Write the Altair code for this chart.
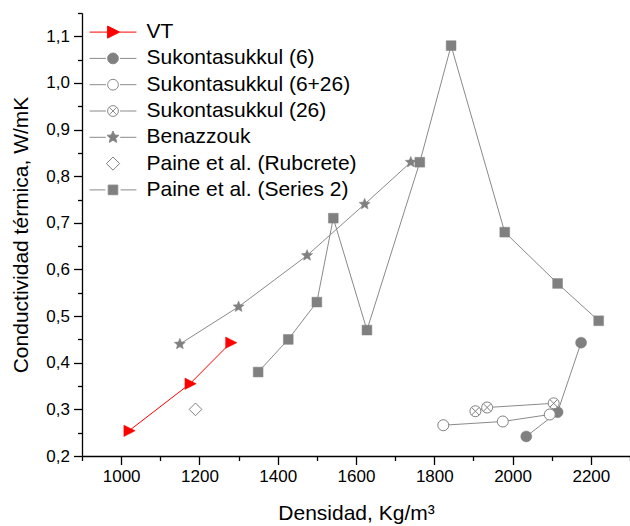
import math
import altair as alt
import pandas as pd

# Density (kg/m³) and thermal conductivity (W/mK) of each series
vt_density = [1020, 1176, 1280]
vt_cond = [0.254, 0.355, 0.443]

suk6_density = [2035, 2115, 2175]
suk6_cond = [0.242, 0.294, 0.443]

suk626_density = [1823, 1975, 2095]
suk626_cond = [0.266, 0.274, 0.289]

suk26_density = [1905, 1935, 2105]
suk26_cond = [0.296, 0.304, 0.313]

benaz_density = [1150, 1300, 1475, 1622, 1740]
benaz_cond = [0.44, 0.52, 0.63, 0.74, 0.83]

rubcrete_density = [1190]
rubcrete_cond = [0.30]

paine2_density = [1350, 1427, 1500, 1542, 1628, 1763, 1843, 1980, 2115, 2220]
paine2_cond = [0.38, 0.45, 0.53, 0.71, 0.47, 0.83, 1.08, 0.68, 0.57, 0.49]

series_names = [
    "VT",
    "Sukontasukkul (6)",
    "Sukontasukkul (6+26)",
    "Sukontasukkul (26)",
    "Benazzouk",
    "Paine et al. (Rubcrete)",
    "Paine et al. (Series 2)",
]

x_ticks = list(range(900, 2301, 100))
y_ticks = [round(0.2 + 0.05 * i, 2) for i in range(20)]

GRAY = "#808080"
LINE_GRAY = "#8a8a8a"
RED = "#ff0000"
FONT = "Liberation Sans"


def f(v):
    return f"{v:.3f}".rstrip("0").rstrip(".")


# Symbol outlines in Vega's unit space (scaled by sqrt(size)/2)
def tri(s=1.0):
    return f"M{f(-0.9*s)},{f(-s)}L{f(1.1*s)},0L{f(-0.9*s)},{f(s)}Z"


def circ(s=1.0):
    return f"M{f(s)},0A{f(s)},{f(s)} 0 1,1 {f(-s)},0A{f(s)},{f(s)} 0 1,1 {f(s)},0Z"


def circx(s=1.0):
    d = 0.7 * s
    return circ(s) + f"M{f(-d)},{f(-d)}L{f(d)},{f(d)}M{f(-d)},{f(d)}L{f(d)},{f(-d)}"


def star(s=1.0, inner=0.45):
    pts = []
    for k in range(10):
        ang = math.radians(-90 + 36 * k)
        rad = s * (1.0 if k % 2 == 0 else inner)
        pts.append(f"{f(rad*math.cos(ang))},{f(rad*math.sin(ang))}")
    return "M" + "L".join(pts) + "Z"


def diamond(s=1.0):
    return f"M0,{f(-s)}L{f(s)},0L0,{f(s)}L{f(-s)},0Z"


def square(s=1.0):
    return f"M{f(-s)},{f(-s)}L{f(s)},{f(-s)}L{f(s)},{f(s)}L{f(-s)},{f(s)}Z"


def with_line(marker, gap_l, gap_r, reach=3.9):
    return f"M{f(-reach)},0L{f(-gap_l)},0M{f(gap_r)},0L{f(reach)},0" + marker


x_axis = alt.Axis(
    title="Densidad, Kg/m³",
    values=x_ticks,
    tickSize={"condition": {"test": "datum.value % 200 === 0", "value": 8.5}, "value": 4.5},
    labelExpr="datum.value % 200 === 0 ? '' + datum.value : ''",
    labelOverlap=False,
    labelFlush=False,
    labelPadding=4,
    titlePadding=18,
)
major_y = "abs(datum.value * 10 - round(datum.value * 10)) < 0.001"
y_axis = alt.Axis(
    title="Conductividad térmica, W/mK",
    values=y_ticks,
    tickSize={"condition": {"test": major_y, "value": 8.5}, "value": 4.5},
    labelExpr=f"{major_y} ? replace(format(datum.value, '.1f'), '.', ',') : ''",
    labelOverlap=False,
    labelFlush=False,
    labelPadding=4,
    titlePadding=14,
)

xs = alt.Scale(domain=[900, 2300], nice=False, zero=False)
ys = alt.Scale(domain=[0.2, 1.15], nice=False, zero=False)


def series_layers(dens, cond, line_color, point_kwargs, with_line_mark=True):
    df = pd.DataFrame({"density": dens, "cond": cond})
    enc = dict(
        x=alt.X("density:Q", scale=xs, axis=x_axis),
        y=alt.Y("cond:Q", scale=ys, axis=y_axis),
    )
    pts = alt.Chart(df).mark_point(opacity=1, **point_kwargs).encode(**enc)
    if with_line_mark:
        ln = alt.Chart(df).mark_line(color=line_color, strokeWidth=1).encode(**enc)
        return [ln], [pts]
    return [], [pts]


specs = [
    (vt_density, vt_cond, RED, dict(shape=tri(), fill=RED, stroke=RED, strokeWidth=0.5, size=128), True),
    (suk6_density, suk6_cond, LINE_GRAY, dict(shape="circle", fill=GRAY, stroke=GRAY, strokeWidth=0.5, size=121), True),
    (suk626_density, suk626_cond, LINE_GRAY, dict(shape="circle", fill="white", stroke=GRAY, strokeWidth=1, size=121), True),
    (suk26_density, suk26_cond, LINE_GRAY, dict(shape=circx(), fill="white", stroke=GRAY, strokeWidth=1, size=121), True),
    (benaz_density, benaz_cond, LINE_GRAY, dict(shape=star(1.05), fill=GRAY, stroke=GRAY, strokeWidth=0.5, size=124), True),
    (rubcrete_density, rubcrete_cond, LINE_GRAY, dict(shape="diamond", fill="white", stroke=GRAY, strokeWidth=1, size=160), False),
    (paine2_density, paine2_cond, LINE_GRAY, dict(shape="square", fill=GRAY, stroke=GRAY, strokeWidth=0.5, size=96), True),
]

line_layers, point_layers = [], []
for dens, cond, lc, pk, wl in specs:
    l, p = series_layers(dens, cond, lc, pk, wl)
    line_layers += l
    point_layers += p

# Legend symbols: a line segment through each marker
legend_shapes = [
    with_line(tri(1.0), 0.9, 1.1),
    with_line(circ(0.9), 1.17, 1.17),
    with_line(circ(0.9), 1.17, 1.17),
    with_line(circx(0.9), 1.17, 1.17),
    with_line(star(1.05), 1.2, 1.2),
    diamond(1.1),
    with_line(square(0.8), 1.27, 1.27),
]
legend_fills = [RED, GRAY, "white", "white", GRAY, "white", GRAY]
legend_strokes = [RED, LINE_GRAY, LINE_GRAY, LINE_GRAY, LINE_GRAY, GRAY, LINE_GRAY]

leg = alt.Legend(
    orient="none",
    legendX=20.5,
    legendY=8.6,
    symbolSize=144,
    symbolStrokeWidth=1,
    symbolOpacity=1,
    labelFont=FONT,
    labelFontSize=21,
    labelColor="black",
    labelOffset=23,
    labelLimit=500,
    rowPadding=4.3,
    padding=0,
)
legend_df = pd.DataFrame({"series": series_names})
legend_layer = alt.Chart(legend_df).mark_point(opacity=0).encode(
    fill=alt.Fill("series:N", title=None, scale=alt.Scale(domain=series_names, range=legend_fills), legend=leg),
    stroke=alt.Stroke("series:N", title=None, scale=alt.Scale(domain=series_names, range=legend_strokes), legend=leg),
    shape=alt.Shape("series:N", title=None, scale=alt.Scale(domain=series_names, range=legend_shapes), legend=leg),
)

chart = (
    alt.layer(*line_layers, *point_layers, legend_layer)
    .properties(
        width=548,
        height=443,
        autosize=alt.AutoSizeParams(type="none"),
        padding={"left": 82, "top": 13, "right": 0, "bottom": 70},
    )
    .configure_view(strokeWidth=0)
    .configure_axis(
        domainColor="black",
        domainWidth=1.3,
        tickColor="black",
        tickWidth=1.3,
        grid=False,
        labelFont=FONT,
        labelFontSize=17,
        labelColor="black",
        titleFont=FONT,
        titleFontSize=21,
        titleFontWeight="normal",
        titleColor="black",
    )
)

chart.save("out.html", embed_options={"renderer": "svg", "actions": False})
